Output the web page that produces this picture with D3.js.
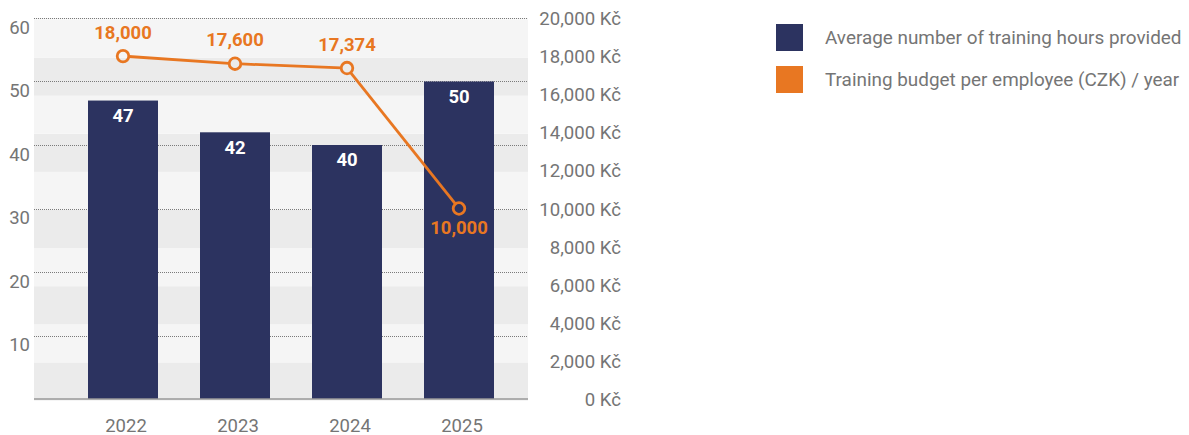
<!DOCTYPE html>
<html>
<head>
<meta charset="utf-8">
<script src="https://cdn.jsdelivr.net/npm/d3@7"></script>
<style>
  html, body { margin: 0; padding: 0; background: #ffffff; }
  svg { display: block; font-family: Roboto, "Noto Sans", sans-serif; }
</style>
</head>
<body>
<svg id="chart" width="1189" height="435"></svg>
<script>
const years = ["2022", "2023", "2024", "2025"];
const trainingHours = [47, 42, 40, 50];
const budgetCZK = [18000, 17600, 17374, 10000];
const leftTicks = [10, 20, 30, 40, 50, 60];
const rightTicks = [0, 2000, 4000, 6000, 8000, 10000, 12000, 14000, 16000, 18000, 20000];
const seriesNames = ["Average number of training hours provided", "Training budget per employee (CZK) / year"];

const navy = "#2c3360";
const orange = "#e87722";
const grey = "#757575";

const svg = d3.select("#chart");
const plotLeft = 34, plotRight = 528, plotTop = 18, plotBottom = 399;

const x = d3.scaleBand().domain(years).range([67, 515]).paddingInner(0.375).paddingOuter(0.1875);
const yL = d3.scaleLinear().domain([0, 60]).range([plotBottom, plotTop]);
const yR = d3.scaleLinear().domain([0, 20000]).range([plotBottom, plotTop]);

// background bands
const bandVals = d3.range(0, 20000, 2000);
svg.append("g").selectAll("rect").data(bandVals).join("rect")
  .attr("x", plotLeft).attr("width", plotRight - plotLeft)
  .attr("y", d => yR(d + 2000) + 1.5)
  .attr("height", d => yR(d) - yR(d + 2000))
  .attr("fill", d => ((d / 2000) % 2 === 0) ? "#ebebeb" : "#f5f5f5");
svg.append("rect").attr("x", plotLeft).attr("width", plotRight - plotLeft)
  .attr("y", plotTop).attr("height", 1.5).attr("fill", "#f5f5f5");

// dotted gridlines
svg.append("g").selectAll("line").data(leftTicks).join("line")
  .attr("x1", plotLeft).attr("x2", plotRight)
  .attr("y1", d => Math.round(yL(d)) + 0.5).attr("y2", d => Math.round(yL(d)) + 0.5)
  .attr("stroke", "#7a7a7a").attr("stroke-width", 1).attr("stroke-dasharray", "1,1");

// left axis labels
svg.append("g").selectAll("text").data(leftTicks).join("text")
  .attr("x", 30).attr("y", d => yL(d) + 15.8)
  .attr("text-anchor", "end").attr("font-size", 18.5).attr("fill", grey)
  .text(d => d);

// right axis labels
svg.append("g").selectAll("text").data(rightTicks).join("text")
  .attr("x", 621).attr("y", d => yR(d) + 0.5).attr("dy", "0.35em")
  .attr("text-anchor", "end").attr("font-size", 18.6).attr("fill", grey)
  .text(d => d3.format(",")(d) + " Kč");

// bars
svg.append("g").selectAll("rect").data(years).join("rect")
  .attr("x", d => x(d)).attr("width", x.bandwidth())
  .attr("y", (d, i) => yL(trainingHours[i]))
  .attr("height", (d, i) => yL(0) - yL(trainingHours[i]))
  .attr("fill", navy);

// bar labels
svg.append("g").selectAll("text").data(years).join("text")
  .attr("x", d => x(d) + x.bandwidth() / 2)
  .attr("y", (d, i) => yL(trainingHours[i]) + 15).attr("dy", "0.35em")
  .attr("text-anchor", "middle").attr("font-size", 18.5).attr("font-weight", "bold")
  .attr("fill", "#ffffff").text((d, i) => trainingHours[i]);

// baseline
svg.append("line").attr("x1", plotLeft).attr("x2", plotRight)
  .attr("y1", plotBottom).attr("y2", plotBottom)
  .attr("stroke", "#999999").attr("stroke-width", 1.6);

// x labels
svg.append("g").selectAll("text").data(years).join("text")
  .attr("x", d => x(d) + x.bandwidth() / 2 + 3).attr("y", 431.5)
  .attr("text-anchor", "middle").attr("font-size", 18.5).attr("fill", grey)
  .text(d => d);

// line (segments stop at circle edges)
const r = 5.8;
const pts = years.map((d, i) => [x(d) + x.bandwidth() / 2, yR(budgetCZK[i])]);
const segs = d3.pairs(pts).map(([a, b]) => {
  const dx = b[0] - a[0], dy = b[1] - a[1], L = Math.hypot(dx, dy);
  const ux = dx / L, uy = dy / L;
  return [[a[0] + ux * r, a[1] + uy * r], [b[0] - ux * r, b[1] - uy * r]];
});
svg.append("g").selectAll("path").data(segs).join("path")
  .attr("d", d3.line())
  .attr("fill", "none").attr("stroke", orange).attr("stroke-width", 2.8);
svg.append("g").selectAll("circle").data(pts).join("circle")
  .attr("cx", d => d[0]).attr("cy", d => d[1]).attr("r", r)
  .attr("fill", "none").attr("stroke", orange).attr("stroke-width", 2.8);

// line labels
svg.append("g").selectAll("text").data(years).join("text")
  .attr("x", d => x(d) + x.bandwidth() / 2)
  .attr("y", (d, i) => yR(budgetCZK[i]) + (i === years.length - 1 ? 19 : -24)).attr("dy", "0.35em")
  .attr("text-anchor", "middle").attr("font-size", 18.5).attr("font-weight", "bold")
  .attr("fill", orange).text((d, i) => d3.format(",")(budgetCZK[i]));

// legend
const legend = svg.append("g").selectAll("g").data(seriesNames).join("g")
  .attr("transform", (d, i) => `translate(776, ${24 + i * 42})`);
legend.append("rect").attr("width", 27).attr("height", 27)
  .attr("fill", (d, i) => i === 0 ? navy : orange);
legend.append("text").attr("x", 49).attr("y", 13.5).attr("dy", "0.35em")
  .attr("font-size", 18.9).attr("fill", grey).text(d => d);
</script>
</body>
</html>
